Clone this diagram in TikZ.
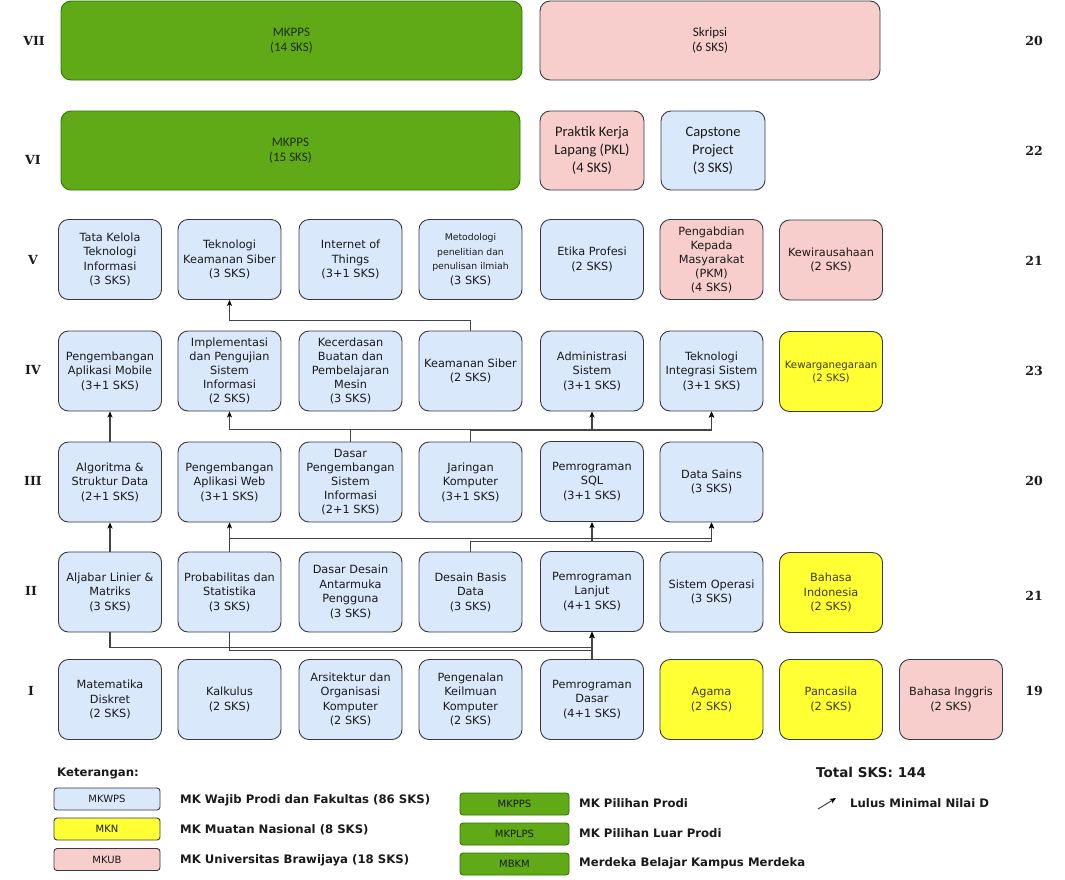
\documentclass[tikz,border=0pt]{standalone}
\usepackage{fontspec}
\setmainfont{DejaVu Sans}
\newfontfamily\carl{Carlito}
\newfontfamily\rowfont{DejaVu Serif}
\usetikzlibrary{arrows.meta}
\definecolor{blueF}{HTML}{DAE8FC}
\definecolor{pinkF}{HTML}{F8CECC}
\definecolor{yelF}{HTML}{FFFF33}
\definecolor{greenF}{HTML}{60A917}
\definecolor{greenD}{HTML}{2D7600}
\definecolor{edgeC}{HTML}{36393D}
\definecolor{txtC}{HTML}{1A1A1A}
\definecolor{oliveC}{HTML}{3D3D10}
\definecolor{gtxt}{HTML}{1F2E0F}
\definecolor{lineC}{HTML}{444444}
\begin{document}
\begin{tikzpicture}[x=1pt,y=-1pt,
  box/.style={draw=edgeC, line width=0.9pt, rounded corners=10pt, minimum width=103pt,
    minimum height=80pt, inner sep=1pt, align=center, text=txtC,
    font=\fontsize{11.3}{14.5}\selectfont},
  bluebox/.style={box, fill=blueF},
  pinkbox/.style={box, fill=pinkF},
  yelbox/.style={box, fill=yelF, text=oliveC},
  greenbox/.style={box, fill=greenF, draw=greenD, text=gtxt},
  rowlab/.style={font=\rowfont\bfseries\fontsize{12.5}{14}\selectfont, text=txtC, inner sep=0pt},
  leglab/.style={anchor=west, inner sep=0pt, font=\bfseries\fontsize{11.7}{14}\selectfont, text=txtC},
  legbox/.style={draw=edgeC, line width=0.9pt, rounded corners=3pt, minimum width=106pt,
    minimum height=22pt, inner sep=0pt, text=txtC, font=\fontsize{10}{12}\selectfont},
  conn/.style={draw=lineC, line width=1.1pt, -{Stealth[length=6pt,width=5pt,inset=1.5pt,color=black]}}
]
\fill[white] (0,0) rectangle (1065,879);
\useasboundingbox (0,0) rectangle (1065,879);

% row labels
\node[rowlab] (lVII) at (34,41) {VII};
\node[rowlab] (lVI) at (33,160) {VI};
\node[rowlab] (lV) at (33,260) {V};
\node[rowlab] (lIV) at (33,370) {IV};
\node[rowlab] (lIII) at (33,481) {III};
\node[rowlab] (lII) at (31,591) {II};
\node[rowlab] (lI) at (31,691) {I};
% totals
\node[rowlab] (tVII) at (1034,41) {20};
\node[rowlab] (tVI) at (1034,151) {22};
\node[rowlab] (tV) at (1034,261) {21};
\node[rowlab] (tIV) at (1034,371) {23};
\node[rowlab] (tIII) at (1034,481) {20};
\node[rowlab] (tII) at (1034,596) {21};
\node[rowlab] (tI) at (1034,691) {19};

% Row VII
\node[greenbox, minimum width=461pt, minimum height=79pt, font=\carl\fontsize{13}{14.5}\selectfont] (mk7) at (291.5,40.5) {MKPPS\\(14 SKS)};
\node[pinkbox, minimum width=340pt, minimum height=79pt, font=\carl\fontsize{13}{14.5}\selectfont] (skripsi) at (710,40.5) {Skripsi\\(6 SKS)};
% Row VI
\node[greenbox, minimum width=459pt, minimum height=79pt, font=\carl\fontsize{13}{14.5}\selectfont] (mk6) at (290.5,150.5) {MKPPS\\(15 SKS)};
\node[pinkbox, minimum width=104pt, minimum height=79pt, font=\carl\fontsize{14.5}{18}\selectfont] (pkl) at (592,150.5) {Praktik Kerja\\Lapang (PKL)\\(4 SKS)};
\node[bluebox, minimum width=104pt, minimum height=79pt, font=\carl\fontsize{14.5}{18}\selectfont] (cap) at (713,150.5) {Capstone\\Project\\(3 SKS)};

% Row V
\node[bluebox] (tkti) at (110,259.5) {Tata Kelola\\Teknologi\\Informasi\\(3 SKS)};
\node[bluebox] (tks) at (229.5,259.5) {Teknologi\\Keamanan Siber\\(3 SKS)};
\node[bluebox] (iot) at (350.5,259.5) {Internet of\\Things\\(3+1 SKS)};
\node[bluebox] (metpen) at (470.5,259.5) {\fontsize{9.3}{14}\selectfont Metodologi\\\fontsize{9.3}{14}\selectfont penelitian dan\\\fontsize{9.3}{14}\selectfont penulisan ilmiah\\\fontsize{11.3}{14.5}\selectfont (3 SKS)};
\node[bluebox] (etika) at (592,259.5) {Etika Profesi\\(2 SKS)};
\node[pinkbox, font=\fontsize{11.3}{14}\selectfont] (pkm) at (711.5,259.5) {Pengabdian\\Kepada\\Masyarakat\\(PKM)\\(4 SKS)};
\node[pinkbox] (kwu) at (831,260) {Kewirausahaan\\(2 SKS)};

% Row IV
\node[bluebox] (pam) at (110,371) {Pengembangan\\Aplikasi Mobile\\(3+1 SKS)};
\node[bluebox, font=\fontsize{11.3}{14}\selectfont] (impl) at (229.5,371) {Implementasi\\dan Pengujian\\Sistem\\Informasi\\(2 SKS)};
\node[bluebox, font=\fontsize{11.3}{14}\selectfont] (kbpm) at (350.5,371) {Kecerdasan\\Buatan dan\\Pembelajaran\\Mesin\\(3 SKS)};
\node[bluebox] (ks) at (470.5,371) {Keamanan Siber\\(2 SKS)};
\node[bluebox] (admin) at (592,371) {Administrasi\\Sistem\\(3+1 SKS)};
\node[bluebox] (tis) at (711.5,371) {Teknologi\\Integrasi Sistem\\(3+1 SKS)};
\node[yelbox, font=\fontsize{10.2}{13}\selectfont] (kwn) at (831,371.5) {Kewarganegaraan\\(2 SKS)};

% Row III
\node[bluebox] (asd) at (110,482) {Algoritma \&\\Struktur Data\\(2+1 SKS)};
\node[bluebox] (paw) at (229.5,482) {Pengembangan\\Aplikasi Web\\(3+1 SKS)};
\node[bluebox, font=\fontsize{11.3}{14}\selectfont] (dpsi) at (350.5,482) {Dasar\\Pengembangan\\Sistem\\Informasi\\(2+1 SKS)};
\node[bluebox] (jk) at (470.5,482) {Jaringan\\Komputer\\(3+1 SKS)};
\node[bluebox] (sql) at (592,481.5) {Pemrograman\\SQL\\(3+1 SKS)};
\node[bluebox] (ds) at (711.5,482) {Data Sains\\(3 SKS)};

% Row II
\node[bluebox] (alm) at (110,592) {Aljabar Linier \&\\Matriks\\(3 SKS)};
\node[bluebox] (prob) at (229.5,592) {Probabilitas dan\\Statistika\\(3 SKS)};
\node[bluebox] (ddap) at (350.5,592) {Dasar Desain\\Antarmuka\\Pengguna\\(3 SKS)};
\node[bluebox] (dbd) at (470.5,592) {Desain Basis\\Data\\(3 SKS)};
\node[bluebox] (pl) at (592,591.5) {Pemrograman\\Lanjut\\(4+1 SKS)};
\node[bluebox] (so) at (711.5,592) {Sistem Operasi\\(3 SKS)};
\node[yelbox] (bi) at (831,592.5) {Bahasa\\Indonesia\\(2 SKS)};

% Row I
\node[bluebox] (md) at (110,699.5) {Matematika\\Diskret\\(2 SKS)};
\node[bluebox] (kal) at (229.5,699.5) {Kalkulus\\(2 SKS)};
\node[bluebox] (aok) at (350.5,699.5) {Arsitektur dan\\Organisasi\\Komputer\\(2 SKS)};
\node[bluebox] (pkk) at (470.5,699.5) {Pengenalan\\Keilmuan\\Komputer\\(2 SKS)};
\node[bluebox] (pd) at (592,699.5) {Pemrograman\\Dasar\\(4+1 SKS)};
\node[yelbox] (agama) at (711.5,699.5) {Agama\\(2 SKS)};
\node[yelbox] (pancasila) at (831,699.5) {Pancasila\\(2 SKS)};
\node[pinkbox] (bing) at (951,699.5) {Bahasa Inggris\\(2 SKS)};

% connectors
\draw[conn] (alm.north) -- (asd.south);
\draw[conn] (asd.north) -- (pam.south);
\draw[conn] (prob.north) -- (paw.south);
\draw[conn] (prob.north) -- ++(0,-13) -| (ds.south);
\draw[conn] (dbd.north) -- ++(0,-10) -| (sql.south);
\draw[conn] (dbd.north) -- ++(0,-10) -| (ds.south);
\draw[conn] (dpsi.north) -- ++(0,-12) -| (impl.south);
\draw[conn] (dpsi.north) -- ++(0,-12) -| (tis.south);
\draw[conn] (jk.north) -- ++(0,-11) -| (admin.south);
\draw[conn] (jk.north) -- ++(0,-11) -| (tis.south);
\draw[conn] (ks.north) -- ++(0,-10) -| (tks.south);
\draw[conn] (alm.south) -- ++(0,15) -| (pl.south);
\draw[conn] (prob.south) -- ++(0,18) -| (pl.south);
\draw[conn] (pd.north) -- (pl.south);

% legend
\node[leglab] (ket) at (57,773) {Keterangan:};
\node[legbox, fill=blueF] (lg1) at (107,799) {MKWPS};
\node[legbox, fill=yelF] (lg2) at (107,829) {MKN};
\node[legbox, fill=pinkF] (lg3) at (107,859.5) {MKUB};
\node[leglab] (lt1) at (180,800) {MK Wajib Prodi dan Fakultas (86 SKS)};
\node[leglab] (lt2) at (180,830) {MK Muatan Nasional (8 SKS)};
\node[leglab] (lt3) at (180,860) {MK Universitas Brawijaya (18 SKS)};
\node[legbox, fill=greenF, draw=greenD, minimum width=109pt] (lg4) at (514.5,804) {MKPPS};
\node[legbox, fill=greenF, draw=greenD, minimum width=109pt] (lg5) at (514.5,834) {MKPLPS};
\node[legbox, fill=greenF, draw=greenD, minimum width=109pt] (lg6) at (514.5,864) {MBKM};
\node[leglab] (lt4) at (579,803) {MK Pilihan Prodi};
\node[leglab] (lt5) at (579,833) {MK Pilihan Luar Prodi};
\node[leglab] (lt6) at (579,863) {Merdeka Belajar Kampus Merdeka};
\node[leglab, font=\bfseries\fontsize{13.5}{16}\selectfont] (total) at (816,772) {Total SKS: 144};
\coordinate (la1) at (818,809);
\coordinate (la2) at (836,798);
\draw[draw=lineC, line width=1pt, -{Stealth[length=6pt,width=5pt,inset=1.5pt,color=black]}] (la1) -- (la2);
\node[leglab] (lulus) at (850,803) {Lulus Minimal Nilai D};
\end{tikzpicture}
\end{document}
